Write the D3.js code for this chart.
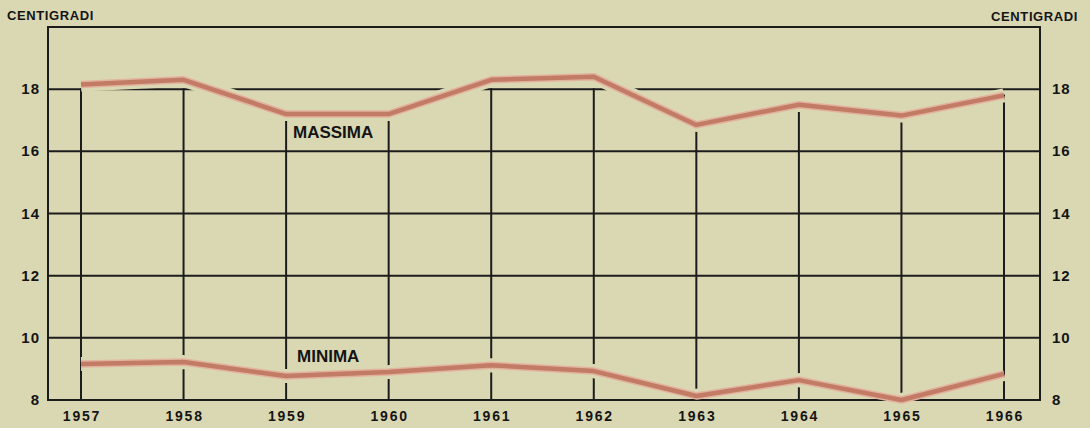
<!DOCTYPE html>
<html>
<head>
<meta charset="utf-8">
<script src="https://cdn.jsdelivr.net/npm/d3@7"></script>
<style>
	body { margin: 0; background: #dad8b3; }
	svg { display: block; }
	text { font-family: "Liberation Sans", Arial, sans-serif; font-weight: bold; fill: #141414; }
</style>
</head>
<body>
<div id="chart"></div>
<script>
const years = [1957, 1958, 1959, 1960, 1961, 1962, 1963, 1964, 1965, 1966];
const massima = [18.15, 18.3, 17.2, 17.2, 18.3, 18.4, 16.85, 17.5, 17.15, 17.8];
const minima = [9.16, 9.22, 8.77, 8.9, 9.12, 8.93, 8.13, 8.64, 8.0, 8.84];
const yTicks = [8, 10, 12, 14, 16, 18];
const gridLevels = [10, 12, 14, 16, 18];

const width = 1090;
const height = 428;
const bg = "#dad8b3";
const ink = "#1c1c1c";
const lineColor = "#c27b64";

const frame = {left: 48, right: 1040, top: 27, bottom: 400};

const x = d3.scaleLinear()
	.domain([1957, 1966])
	.range([81, 1004]);

const y = d3.scaleLinear()
	.domain([8, 20])
	.range([frame.bottom, frame.top]);

const svg = d3.select("#chart")
	.append("svg")
	.attr("width", width)
	.attr("height", height);

svg.append("rect")
	.attr("width", width)
	.attr("height", height)
	.attr("fill", bg);

// horizontal grid
svg.selectAll("line.h")
	.data(gridLevels)
	.enter()
	.append("line")
	.attr("class", "h")
	.attr("x1", frame.left)
	.attr("x2", frame.right)
	.attr("y1", d => y(d))
	.attr("y2", d => y(d))
	.attr("stroke", ink)
	.attr("stroke-width", 2);

// vertical grid, from the bottom up to the upper curve
svg.selectAll("line.v")
	.data(years)
	.enter()
	.append("line")
	.attr("class", "v")
	.attr("x1", d => x(d))
	.attr("x2", d => x(d))
	.attr("y1", frame.bottom)
	.attr("y2", (d, i) => y(Math.min(massima[i], 18)) - 1)
	.attr("stroke", ink)
	.attr("stroke-width", 2);

const line = d3.line()
	.x((d, i) => x(years[i]))
	.y(d => y(d));

// pale halo under the curves
[massima, minima].forEach(function(series) {
	svg.append("path")
		.datum(series)
		.attr("d", line)
		.attr("fill", "none")
		.attr("stroke", bg)
		.attr("stroke-width", 14)
		.attr("stroke-linejoin", "round");
});

// frame
svg.append("rect")
	.attr("x", frame.left)
	.attr("y", frame.top)
	.attr("width", frame.right - frame.left)
	.attr("height", frame.bottom - frame.top)
	.attr("fill", "none")
	.attr("stroke", ink)
	.attr("stroke-width", 2);

[massima, minima].forEach(function(series) {
	svg.append("path")
		.datum(series)
		.attr("d", line)
		.attr("fill", "none")
		.attr("stroke", "#e3b29f")
		.attr("stroke-width", 7.5)
		.attr("stroke-linejoin", "round");
	svg.append("path")
		.datum(series)
		.attr("d", line)
		.attr("fill", "none")
		.attr("stroke", lineColor)
		.attr("stroke-width", 4.5)
		.attr("stroke-linejoin", "round");
});

// y labels both sides
svg.selectAll("text.yl")
	.data(yTicks)
	.enter()
	.append("text")
	.attr("class", "yl")
	.attr("x", 40)
	.attr("y", d => y(d) + 5)
	.attr("text-anchor", "end")
	.attr("font-size", "15px")
	.attr("letter-spacing", "1px")
	.text(d => d);

svg.selectAll("text.yr")
	.data(yTicks)
	.enter()
	.append("text")
	.attr("class", "yr")
	.attr("x", 1052)
	.attr("y", d => y(d) + 5)
	.attr("font-size", "15px")
	.attr("letter-spacing", "1px")
	.text(d => d);

// year labels
svg.selectAll("text.xl")
	.data(years)
	.enter()
	.append("text")
	.attr("class", "xl")
	.attr("x", d => x(d) + 1)
	.attr("y", 421)
	.attr("text-anchor", "middle")
	.attr("font-size", "14px")
	.attr("letter-spacing", "1.8px")
	.text(d => d);

svg.append("text")
	.attr("x", 7)
	.attr("y", 20)
	.attr("font-size", "13px")
	.attr("letter-spacing", "0.6px")
	.text("CENTIGRADI");

svg.append("text")
	.attr("x", 1078)
	.attr("y", 21)
	.attr("text-anchor", "end")
	.attr("font-size", "13px")
	.attr("letter-spacing", "0.6px")
	.text("CENTIGRADI");

svg.append("text")
	.attr("x", 293)
	.attr("y", 138)
	.attr("font-size", "17px")
	.text("MASSIMA");

svg.append("text")
	.attr("x", 297)
	.attr("y", 362)
	.attr("font-size", "17px")
	.text("MINIMA");
</script>
</body>
</html>
